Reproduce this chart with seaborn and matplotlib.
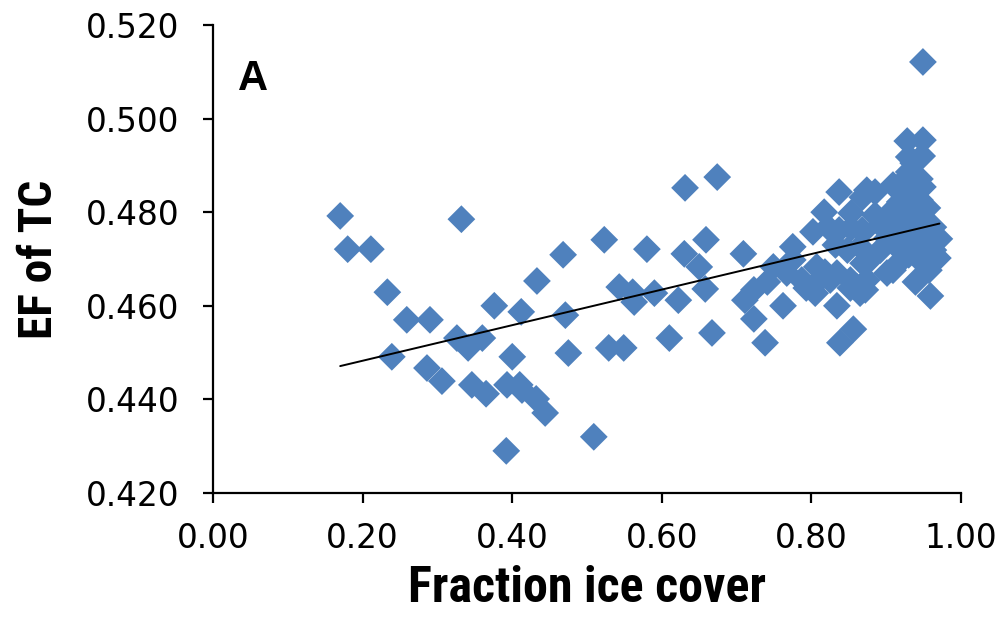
import numpy as np
import matplotlib
matplotlib.use("Agg")
import matplotlib.pyplot as plt
import seaborn as sns
from matplotlib.ticker import FormatStrFormatter

sns.set_theme(style='ticks')
plt.rcParams['font.family'] = ['DejaVu Sans']
plt.rcParams['text.color'] = 'black'
plt.rcParams['axes.labelcolor'] = 'black'

# fraction ice cover (x) and EF of TC (y)
ice_cover = [0.170, 0.180, 0.211, 0.233, 0.259, 0.290, 0.239, 0.286, 0.306, 0.332,
             0.326, 0.341, 0.360, 0.376, 0.346, 0.365, 0.392, 0.400, 0.393, 0.410,
             0.413, 0.432, 0.444, 0.412, 0.433, 0.468, 0.471, 0.475, 0.523, 0.509,
             0.529, 0.543, 0.561, 0.563, 0.590, 0.622, 0.658, 0.549, 0.610, 0.667,
             0.580, 0.630, 0.659, 0.650, 0.631, 0.674, 0.709, 0.723, 0.711, 0.741,
             0.723, 0.738, 0.749,
             0.837, 0.868, 0.817, 0.853, 0.802, 0.822, 0.837, 0.853, 0.868, 0.775,
             0.832, 0.848, 0.865, 0.767, 0.775, 0.787, 0.801, 0.807, 0.818, 0.825,
             0.834, 0.852, 0.861, 0.869, 0.793, 0.805, 0.852, 0.865, 0.762, 0.834,
             0.856, 0.838,
             0.949, 0.928, 0.949, 0.930, 0.948, 0.936, 0.922, 0.945, 0.949, 0.874,
             0.885, 0.928, 0.918, 0.945, 0.909, 0.901, 0.941, 0.955, 0.928, 0.949,
             0.918, 0.936, 0.963, 0.869, 0.909, 0.971, 0.969, 0.945, 0.909, 0.901,
             0.939, 0.959, 0.872, 0.874, 0.922, 0.892, 0.878, 0.936, 0.901, 0.952,
             0.959, 0.892, 0.912, 0.930, 0.957, 0.918, 0.885, 0.963, 0.939, 0.930,
             0.909]

ef_tc = [0.4792, 0.4721, 0.4721, 0.4629, 0.4570, 0.4570, 0.4491, 0.4467, 0.4439, 0.4785,
         0.4531, 0.4510, 0.4531, 0.4600, 0.4431, 0.4412, 0.4290, 0.4491, 0.4431, 0.4431,
         0.4420, 0.4401, 0.4371, 0.4587, 0.4653, 0.4709, 0.4580, 0.4499, 0.4741, 0.4320,
         0.4510, 0.4640, 0.4629, 0.4608, 0.4627, 0.4612, 0.4636, 0.4510, 0.4531, 0.4542,
         0.4721, 0.4711, 0.4741, 0.4683, 0.4852, 0.4875, 0.4711, 0.4634, 0.4612, 0.4651,
         0.4572, 0.4521, 0.4683,
         0.4843, 0.4832, 0.4800, 0.4798, 0.4758, 0.4768, 0.4762, 0.4766, 0.4762, 0.4726,
         0.4730, 0.4719, 0.4726, 0.4670, 0.4698, 0.4655, 0.4640, 0.4683, 0.4672, 0.4655,
         0.4670, 0.4655, 0.4640, 0.4691, 0.4638, 0.4627, 0.4638, 0.4627, 0.4600, 0.4600,
         0.4550, 0.4521,
         0.5121, 0.4952, 0.4954, 0.4918, 0.4920, 0.4905, 0.4865, 0.4871, 0.4854, 0.4847,
         0.4843, 0.4837, 0.4822, 0.4826, 0.4805, 0.4790, 0.4805, 0.4809, 0.4790, 0.4783,
         0.4768, 0.4768, 0.4768, 0.4758, 0.4756, 0.4743, 0.4702, 0.4698, 0.4676, 0.4670,
         0.4651, 0.4621, 0.4634, 0.4655, 0.4719, 0.4719, 0.4698, 0.4741, 0.4745, 0.4730,
         0.4750, 0.4773, 0.4730, 0.4709, 0.4676, 0.4694, 0.4794, 0.4719, 0.4848, 0.4886,
         0.4858]

x_ticks = [0.0, 0.2, 0.4, 0.6, 0.8, 1.0]
y_ticks = [0.42, 0.44, 0.46, 0.48, 0.50, 0.52]

fig = plt.figure(figsize=(10.03, 6.28), dpi=100)
ax = fig.add_axes([0.2124, 0.2150, 0.7458, 0.7452])

# diamonds + excel-style linear trendline
sns.scatterplot(x=ice_cover, y=ef_tc, marker='D', s=200, color='#4F81BD',
                edgecolor='none', linewidth=0, ax=ax, zorder=3)
sns.regplot(x=ice_cover, y=ef_tc, scatter=False, ci=None, truncate=True,
            line_kws={'color': 'black', 'lw': 1.4, 'zorder': 4}, ax=ax)

ax.set_xlim(0, 1.0)
ax.set_ylim(0.42, 0.52)
ax.set_xticks(x_ticks)
ax.set_yticks(y_ticks)
ax.xaxis.set_major_formatter(FormatStrFormatter('%.2f'))
ax.yaxis.set_major_formatter(FormatStrFormatter('%.3f'))

sns.despine(ax=ax)
for sp in ['left', 'bottom']:
    ax.spines[sp].set_linewidth(1.6)
    ax.spines[sp].set_color('black')
ax.tick_params(axis='both', direction='out', length=7, width=1.6, colors='black',
               labelsize=23.5)
ax.tick_params(axis='x', pad=14)
ax.tick_params(axis='y', pad=17)

lab_family = ['Roboto Condensed', 'Liberation Sans']
ax.set_xlabel('Fraction ice cover', family=lab_family, fontweight='bold',
              fontsize=36, labelpad=7)
ax.set_ylabel('EF of TC', family=lab_family, fontweight='bold',
              fontsize=34, labelpad=18)

ax.text(0.033, 0.861, 'A', transform=ax.transAxes, fontsize=30, fontweight='bold',
        family=['Liberation Sans', 'DejaVu Sans'], va='baseline', ha='left')

fig.savefig('out.png', dpi=100)
